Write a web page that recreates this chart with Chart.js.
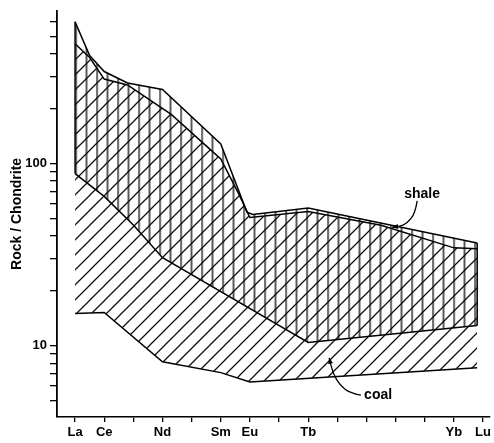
<!DOCTYPE html>
<html>
<head>
<meta charset="utf-8">
<script src="https://cdn.jsdelivr.net/npm/chart.js@4.4.1/dist/chart.umd.min.js"></script>
<style>
  html, body { margin: 0; padding: 0; background: #fff; }
  #wrap { width: 494px; height: 443px; }
</style>
</head>
<body>
<div id="wrap"><canvas id="ree" width="494" height="443"></canvas></div>
<script>
// Chondrite-normalised rare-earth patterns: the shale range and the coal range.
// Horizontal position is the atomic number (La = 57 ... Lu = 71).
const tickZ     = [57, 58, 59, 60, 61, 62, 63, 64, 65, 66, 67, 68, 69, 70, 71];
const tickNames = ['La', 'Ce', '', 'Nd', '', 'Sm', 'Eu', '', 'Tb', '', '', '', '', 'Yb', 'Lu'];

const yTicks    = [5, 6, 7, 8, 9, 10, 20, 30, 40, 50, 60, 70, 80, 90, 100, 200, 300, 400, 500, 600];
const yLabelled = [10, 100];

// shale range (vertical hatching)
const shaleUpperZ = [57, 57.5, 58, 58.8, 60, 62, 62.9, 63.1, 65, 70.8];
const shaleUpper  = [600, 392, 320, 277, 255, 128, 54, 52.5, 57, 36.6];
const shaleLowerZ = [57, 58, 59, 60, 65, 70.8];
const shaleLower  = [88, 66, 46, 30.4, 10.4, 12.9];

// coal range (diagonal hatching)
const coalUpperZ = [57, 57.5, 58, 58.8, 60.3, 61.5, 62, 62.6, 63, 65, 67.5, 70, 70.8];
const coalUpper  = [455, 382, 291, 270, 186, 125, 106, 69, 50.5, 54.5, 45.8, 34.4, 34];
const coalLowerZ = [57, 58, 60, 62, 63, 70.8];
const coalLower  = [15, 15.2, 8.15, 7.1, 6.3, 7.56];

const pts = (zs, vs) => zs.map((z, i) => ({ x: z, y: vs[i] }));

// labels with curved pointers, placed in data units
const notes = [
  { text: 'shale', at: [68.91, 68],
    path: [[68.74, 62.4], [68.67, 53.1], [68.39, 46.9], [68.15, 45.2], [67.88, 44.6]] },
  { text: 'coal', at: [67.40, 5.34],
    path: [[66.81, 5.34], [66.44, 5.48], [66.09, 6.05], [65.85, 7.02], [65.72, 8.56]] }
];

const FONT = '"Liberation Sans", Arial, sans-serif';
const INK = '#000';

function verticalHatch() {
  const c = document.createElement('canvas');
  c.width = 21; c.height = 8;
  const g = c.getContext('2d');
  g.strokeStyle = '#0d0d0d';
  g.lineWidth = 1.35;
  g.beginPath();
  g.moveTo(0.6, 0); g.lineTo(0.6, 8);
  g.moveTo(11.1, 0); g.lineTo(11.1, 8);
  g.stroke();
  const p = g.createPattern(c, 'repeat');
  p.setTransform(new DOMMatrix([1, 0, 0, 1, 12.4, 0]));
  return p;
}

function diagonalHatch() {
  const s = 15;
  const c = document.createElement('canvas');
  c.width = s; c.height = s;
  const g = c.getContext('2d');
  g.strokeStyle = '#0d0d0d';
  g.lineWidth = 1.25;
  g.beginPath();
  g.moveTo(-1, s + 1); g.lineTo(s + 1, -1);
  g.moveTo(-1, 1); g.lineTo(1, -1);
  g.moveTo(s - 1, s + 1); g.lineTo(s + 1, s - 1);
  g.stroke();
  return g.createPattern(c, 'repeat');
}

const boundary = (data, extra) => Object.assign({
  data,
  borderColor: INK,
  borderWidth: 1.5,
  pointRadius: 0,
  tension: 0,
  fill: false
}, extra || {});

const notesPlugin = {
  id: 'notes',
  afterDatasetsDraw(chart) {
    const { ctx, scales: { x, y } } = chart;
    const toPx = p => [x.getPixelForValue(p[0]), y.getPixelForValue(p[1])];
    ctx.save();
    ctx.fillStyle = INK;
    ctx.strokeStyle = INK;
    ctx.font = 'bold 14px ' + FONT;
    ctx.textAlign = 'center';
    ctx.textBaseline = 'middle';
    notes.forEach(n => {
      const [tx, ty] = toPx(n.at);
      ctx.fillText(n.text, tx, ty);
      const p = n.path.map(toPx);
      ctx.beginPath();
      ctx.lineWidth = 1.3;
      ctx.moveTo(p[0][0], p[0][1]);
      for (let i = 1; i < p.length - 1; i++) {
        const mx = (p[i][0] + p[i + 1][0]) / 2;
        const my = (p[i][1] + p[i + 1][1]) / 2;
        ctx.quadraticCurveTo(p[i][0], p[i][1], mx, my);
      }
      const end = p[p.length - 1], prev = p[p.length - 2];
      ctx.lineTo(end[0], end[1]);
      ctx.stroke();
      const a = Math.atan2(end[1] - prev[1], end[0] - prev[0]);
      const L = 6, W = 2.5;
      ctx.beginPath();
      ctx.moveTo(end[0], end[1]);
      ctx.lineTo(end[0] - L * Math.cos(a) + W * Math.sin(a), end[1] - L * Math.sin(a) - W * Math.cos(a));
      ctx.lineTo(end[0] - L * Math.cos(a) - W * Math.sin(a), end[1] - L * Math.sin(a) + W * Math.cos(a));
      ctx.closePath();
      ctx.fill();
    });
    ctx.restore();
  }
};

const shaleLast = shaleUpperZ.length - 1;
const datasets = [
  boundary(pts(shaleUpperZ, shaleUpper), { fill: '+1', backgroundColor: verticalHatch() }),
  boundary(pts(shaleLowerZ, shaleLower)),
  boundary(pts(coalUpperZ, coalUpper), { fill: '+1', backgroundColor: diagonalHatch() }),
  boundary(pts(coalLowerZ, coalLower)),
  // closing edges of the shale field
  boundary([{ x: shaleUpperZ[0], y: shaleUpper[0] }, { x: shaleLowerZ[0], y: shaleLower[0] }]),
  boundary([{ x: shaleUpperZ[shaleLast], y: shaleUpper[shaleLast] },
            { x: shaleLowerZ[shaleLowerZ.length - 1], y: shaleLower[shaleLower.length - 1] }])
];

new Chart(document.getElementById('ree'), {
  type: 'line',
  data: { datasets },
  options: {
    responsive: false,
    animation: false,
    events: [],
    devicePixelRatio: 1,
    layout: { padding: { top: 5, right: 2, left: 0, bottom: 0 } },
    plugins: { legend: { display: false }, tooltip: { enabled: false } },
    scales: {
      x: {
        type: 'linear',
        min: 56.38,
        max: 71.24,
        afterBuildTicks: s => { s.ticks = tickZ.map(v => ({ value: v })); },
        afterFit: s => { s.height = 26; },
        ticks: {
          autoSkip: false,
          maxRotation: 0,
          padding: 3,
          color: INK,
          font: { family: FONT, size: 13, weight: 'bold' },
          callback: v => { const i = tickZ.indexOf(v); return i >= 0 ? tickNames[i] : ''; }
        },
        grid: { display: true, drawOnChartArea: false, drawTicks: true, tickLength: 5, color: INK, lineWidth: 1.3 },
        border: { display: true, color: INK, width: 1.6 }
      },
      y: {
        type: 'logarithmic',
        min: 4.05,
        max: 690,
        afterBuildTicks: s => { s.ticks = yTicks.map(v => ({ value: v })); },
        afterFit: s => { s.width = 57; },
        ticks: {
          autoSkip: false,
          padding: 3,
          color: INK,
          font: { family: FONT, size: 13, weight: 'bold' },
          callback: v => (yLabelled.includes(v) ? String(v) : '')
        },
        grid: { display: true, drawOnChartArea: false, drawTicks: true, tickLength: 7, color: INK, lineWidth: 1.3 },
        border: { display: true, color: INK, width: 1.8 },
        title: {
          display: true,
          text: 'Rock / Chondrite',
          color: INK,
          font: { family: FONT, size: 14, weight: 'bold' },
          padding: { top: 9, bottom: 0 }
        }
      }
    }
  },
  plugins: [notesPlugin]
});
</script>
</body>
</html>
